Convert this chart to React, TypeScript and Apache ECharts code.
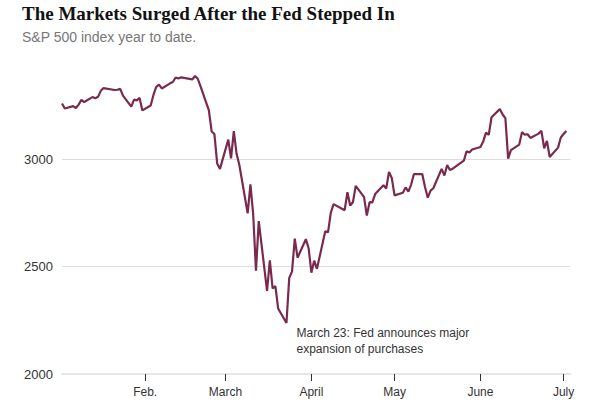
import React, { useEffect, useRef } from "react";
import * as echarts from "echarts";

const titleText = "The Markets Surged After the Fed Stepped In";
const subtitleText = "S&P 500 index year to date.";

const dates = [
  "2020-01-02","2020-01-03","2020-01-06","2020-01-07","2020-01-08","2020-01-09","2020-01-10",
  "2020-01-13","2020-01-14","2020-01-15","2020-01-16","2020-01-17","2020-01-21","2020-01-22",
  "2020-01-23","2020-01-24","2020-01-27","2020-01-28","2020-01-29","2020-01-30","2020-01-31",
  "2020-02-03","2020-02-04","2020-02-05","2020-02-06","2020-02-07","2020-02-10","2020-02-11",
  "2020-02-12","2020-02-13","2020-02-14","2020-02-18","2020-02-19","2020-02-20","2020-02-21",
  "2020-02-24","2020-02-25","2020-02-26","2020-02-27","2020-02-28","2020-03-02","2020-03-03",
  "2020-03-04","2020-03-05","2020-03-06","2020-03-09","2020-03-10","2020-03-11","2020-03-12",
  "2020-03-13","2020-03-16","2020-03-17","2020-03-18","2020-03-19","2020-03-20","2020-03-23",
  "2020-03-24","2020-03-25","2020-03-26","2020-03-27","2020-03-30","2020-03-31","2020-04-01",
  "2020-04-02","2020-04-03","2020-04-06","2020-04-07","2020-04-08","2020-04-09","2020-04-13",
  "2020-04-14","2020-04-15","2020-04-16","2020-04-17","2020-04-20","2020-04-21","2020-04-22",
  "2020-04-23","2020-04-24","2020-04-27","2020-04-28","2020-04-29","2020-04-30","2020-05-01",
  "2020-05-04","2020-05-05","2020-05-06","2020-05-07","2020-05-08","2020-05-11","2020-05-12",
  "2020-05-13","2020-05-14","2020-05-15","2020-05-18","2020-05-19","2020-05-20","2020-05-21",
  "2020-05-22","2020-05-26","2020-05-27","2020-05-28","2020-05-29","2020-06-01","2020-06-02",
  "2020-06-03","2020-06-04","2020-06-05","2020-06-08","2020-06-09","2020-06-10","2020-06-11",
  "2020-06-12","2020-06-15","2020-06-16","2020-06-17","2020-06-18","2020-06-19","2020-06-22",
  "2020-06-23","2020-06-24","2020-06-25","2020-06-26","2020-06-29","2020-06-30","2020-07-01",
  "2020-07-02"
];

const closes = [
  3258, 3235, 3246, 3237, 3253, 3275, 3265,
  3288, 3283, 3289, 3317, 3330, 3321, 3322,
  3326, 3295, 3244, 3276, 3273, 3284, 3226,
  3249, 3298, 3335, 3346, 3328, 3352, 3358,
  3379, 3374, 3380, 3370, 3386, 3373, 3338,
  3226, 3128, 3116, 2979, 2954, 3090, 3003,
  3130, 3024, 2972, 2747, 2882, 2741, 2481,
  2711, 2386, 2529, 2398, 2409, 2305, 2237,
  2447, 2476, 2630, 2541, 2627, 2585, 2471,
  2527, 2489, 2664, 2659, 2750, 2790, 2762,
  2846, 2783, 2800, 2875, 2823, 2737, 2799,
  2798, 2837, 2878, 2863, 2940, 2912, 2831,
  2843, 2868, 2848, 2881, 2930, 2930, 2870,
  2820, 2853, 2864, 2954, 2923, 2972, 2949,
  2955, 2992, 3036, 3030, 3044, 3056, 3081,
  3123, 3112, 3194, 3232, 3207, 3190, 3002,
  3041, 3067, 3125, 3113, 3115, 3098, 3118,
  3131, 3050, 3084, 3009, 3053, 3100, 3116,
  3130
];

const monthTickDates = ["2020-02-01", "2020-03-01", "2020-04-01", "2020-05-01", "2020-06-01", "2020-07-01"];
const monthTickLabels = ["Feb.", "March", "April", "May", "June", "July"];

const yTicks = [2000, 2500, 3000, 3500];

const annotationDate = "2020-03-23";
const annotationValue = 2237;
const annotationText = "March 23: Fed announces major\nexpansion of purchases";

const yearStart = "2020-01-01";
const xStart = "2020-01-02";
const xEnd = "2020-07-03";
const xEndExtraDays = 0.5;

function dayOfYear(s: string): number {
  const [y, m, d] = s.split("-").map(Number);
  const [y0, m0, d0] = yearStart.split("-").map(Number);
  return (Date.UTC(y, m - 1, d) - Date.UTC(y0, m0 - 1, d0)) / 86400000;
}

export default function App() {
  const ref = useRef<HTMLDivElement>(null);

  useEffect(() => {
    if (!ref.current) return;
    const chart = echarts.init(ref.current, undefined, { renderer: "svg" });
    const tickValues = monthTickDates.map(dayOfYear);
    const labelFor = (v: number) => {
      const i = tickValues.findIndex((t) => Math.abs(t - v) < 0.01);
      return i >= 0 ? monthTickLabels[i] : "";
    };
    const sans = "'Liberation Sans', Arial, sans-serif";

    chart.setOption({
      animation: false,
      backgroundColor: "#ffffff",
      title: {
        text: titleText,
        subtext: subtitleText,
        left: 22,
        top: 4,
        padding: 0,
        itemGap: 7,
        textStyle: {
          fontFamily: "'Liberation Serif', 'Times New Roman', serif",
          fontWeight: "bold",
          fontSize: 19,
          color: "#121212",
        },
        subtextStyle: {
          fontFamily: sans,
          fontSize: 14,
          color: "#777777",
        },
      },
      grid: {
        left: 62,
        right: 31.5,
        top: 51.5,
        bottom: 43,
        containLabel: false,
      },
      xAxis: {
        type: "value",
        min: dayOfYear(xStart),
        max: dayOfYear(xEnd) + xEndExtraDays,
        splitLine: { show: false },
        axisLine: { show: true, lineStyle: { color: "#e6e6e6", width: 2 } },
        axisTick: {
          show: true,
          customValues: tickValues,
          length: 7,
          lineStyle: { color: "#333333", width: 1 },
        },
        axisLabel: {
          show: true,
          customValues: tickValues,
          formatter: (v: number) => labelFor(v),
          fontFamily: sans,
          fontSize: 12,
          color: "#333333",
          margin: 12,
        },
      },
      yAxis: {
        type: "value",
        min: yTicks[0],
        max: yTicks[yTicks.length - 1],
        interval: 500,
        axisLine: { show: false },
        axisTick: { show: false },
        axisLabel: {
          fontFamily: sans,
          fontSize: 13,
          color: "#333333",
          margin: 9,
          formatter: (v: number) => (v >= yTicks[yTicks.length - 1] ? "" : String(v)),
        },
        splitLine: {
          show: true,
          lineStyle: {
            color: ["#e6e6e6", "#dddddd", "#dddddd", "rgba(0,0,0,0)"],
            width: 1,
          },
        },
      },
      series: [
        {
          type: "line",
          data: dates.map((d, i) => [dayOfYear(d), closes[i]]),
          showSymbol: false,
          symbol: "none",
          lineStyle: { color: "#7a2a4e", width: 2.2 },
          itemStyle: { color: "#7a2a4e" },
          markPoint: {
            symbol: "circle",
            symbolSize: 0,
            data: [
              {
                coord: [dayOfYear(annotationDate), annotationValue],
                label: {
                  show: true,
                  formatter: annotationText,
                  position: [10, 2],
                  align: "left",
                  verticalAlign: "top",
                  fontFamily: sans,
                  fontSize: 12,
                  lineHeight: 16,
                  color: "#333333",
                },
              },
            ],
          },
        },
      ],
    });
    return () => chart.dispose();
  }, []);

  return (
    <div
      ref={ref}
      style={{ position: "fixed", left: 0, top: 0, width: 602, height: 417 }}
    />
  );
}
